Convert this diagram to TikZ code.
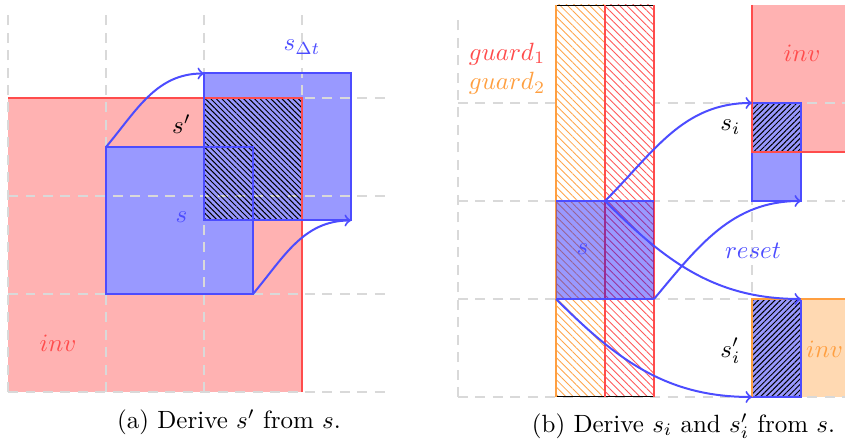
\documentclass[tikz,border=0pt]{standalone}
\usepackage{amsmath}
\usepackage{amssymb}
\usetikzlibrary{patterns.meta}

\begin{document}
\begin{tikzpicture}[x=1.38cm,y=1.38cm,
  helpline/.style={gray!30,dash pattern=on 4pt off 3pt,line width=.6pt},
  border/.style={line width=.8pt},
  hatchnw/.style={pattern={Lines[angle=-45,distance=1.55pt,line width=.4pt]},pattern color=black},
  hatchne/.style={pattern={Lines[angle=45,distance=1.55pt,line width=.4pt]},pattern color=black},
  guardcol/.style={pattern={Lines[angle=-45,distance=2.1pt,line width=.35pt]},pattern color=#1},
  flow/.style={->,blue!70,line width=.8pt}]
\useasboundingbox (-0.082,-0.551) rectangle (8.541,4.0);
\clip (-0.082,-0.551) rectangle (8.541,4.0);

% (a) time step
\coordinate (s-sw) at (1,1);  \coordinate (s-nw) at (1,2.5);
\coordinate (s-se) at (2.5,1); \coordinate (s-ne) at (2.5,2.5);
\coordinate (sdt-sw) at (2,1.75);  \coordinate (sdt-nw) at (2,3.25);
\coordinate (sdt-se) at (3.5,1.75); \coordinate (sdt-ne) at (3.5,3.25);
\fill[red!30] (0,0) rectangle (3,3);
\fill[blue!40] (s-sw) rectangle (s-ne);
\fill[blue!40] (sdt-sw) rectangle (sdt-ne);
\draw[helpline,step=1] (0,0) grid (3.9,3.9);
\fill[hatchnw] (sdt-sw) rectangle (3,3);
\draw[border,red!70] (0,3) -- (3,3) -- (3,0);
\draw[border,blue!70] (s-sw) rectangle (s-ne);
\draw[border,blue!70] (sdt-sw) rectangle (sdt-ne);
\draw[flow] (s-nw) to[out=50,in=180] (sdt-nw);
\draw[flow] (s-se) to[out=50,in=180] (sdt-se);
\node[blue!70] (sdt) at (3.0,3.52) {$s_{\Delta t}$};
\node (sp) at (1.77,2.73) {$s'$};
\node[blue!70] (s) at (1.77,1.78) {$s$};
\node[red!70] (inv) at (0.51,0.5) {$inv$};
\node (capa) at (2.255,-0.311) {(a) Derive $s'$ from $s$.};

% (b) jump with reset
\begin{scope}[shift={(4.592,-0.051)}]
\coordinate (t-sw) at (1,1); \coordinate (t-n) at (1.5,2); \coordinate (t-se) at (2,1);
\coordinate (si-sw) at (3,2); \coordinate (si-nw) at (3,3); \coordinate (si-se) at (3.5,2);
\coordinate (sip-sw) at (3,0); \coordinate (sip-ne) at (3.5,1);
\fill[red!30] (3,2.5) rectangle (4.6,4);
\fill[orange!30] (3,0) rectangle (4.6,1);
\fill[blue!40] (si-sw) rectangle (3.5,3);
\fill[blue!40] (sip-sw) rectangle (sip-ne);
\draw[helpline,step=1] (0,0) grid (4.6,3.9);
\fill[white] (1,0) rectangle (2,4);
\fill[guardcol=orange!70] (1,0) rectangle (1.5,4);
\fill[guardcol=red!65] (1.5,0) rectangle (2,4);
\draw[line width=.4pt] (1,0) rectangle (2,4);
\draw[border,orange!75] (1,0) -- (1,4);
\draw[border,red!70] (1.5,0) -- (1.5,4) (2,0) -- (2,4);
\fill[blue,fill opacity=.4] (t-sw) rectangle (2,2);
\draw[border,blue!70] (1,2) -- (2,2) (t-sw) -- (t-se);
\fill[hatchne] (3,2.5) rectangle (3.5,3);
\fill[hatchne] (sip-sw) rectangle (sip-ne);
\draw[border,blue!70] (si-sw) rectangle (3.5,3);
\draw[border,blue!70] (sip-sw) rectangle (sip-ne);
\draw[border,red!70] (3,4) -- (3,2.5) -- (4.6,2.5);
\draw[border,orange!75] (sip-sw) -- (3,1) -- (4.6,1);
\draw[flow] (t-n) to[out=45,in=180] (si-nw);
\draw[flow] (t-se) to[out=50,in=180] (si-se);
\draw[flow] (t-n) to[out=-45,in=180] (sip-ne);
\draw[flow] (t-sw) to[out=-45,in=180] (sip-sw);
\node[red!70] (g1) at (0.5,3.5) {$guard_1$};
\node[orange!75] (g2) at (0.5,3.2) {$guard_2$};
\node[red!70] (inv1) at (3.51,3.51) {$inv$};
\node[orange!75] (inv2) at (3.74,0.49) {$inv$};
\node[blue!70] (t) at (1.27,1.51) {$s$};
\node (si) at (2.78,2.75) {$s_i$};
\node (sip) at (2.78,0.47) {$s'_i$};
\node[blue!70] (reset) at (3.01,1.49) {$reset$};
\end{scope}
\node (capb) at (6.893,-0.347) {(b) Derive $s_i$ and $s'_i$ from $s$.};
\end{tikzpicture}
\end{document}
